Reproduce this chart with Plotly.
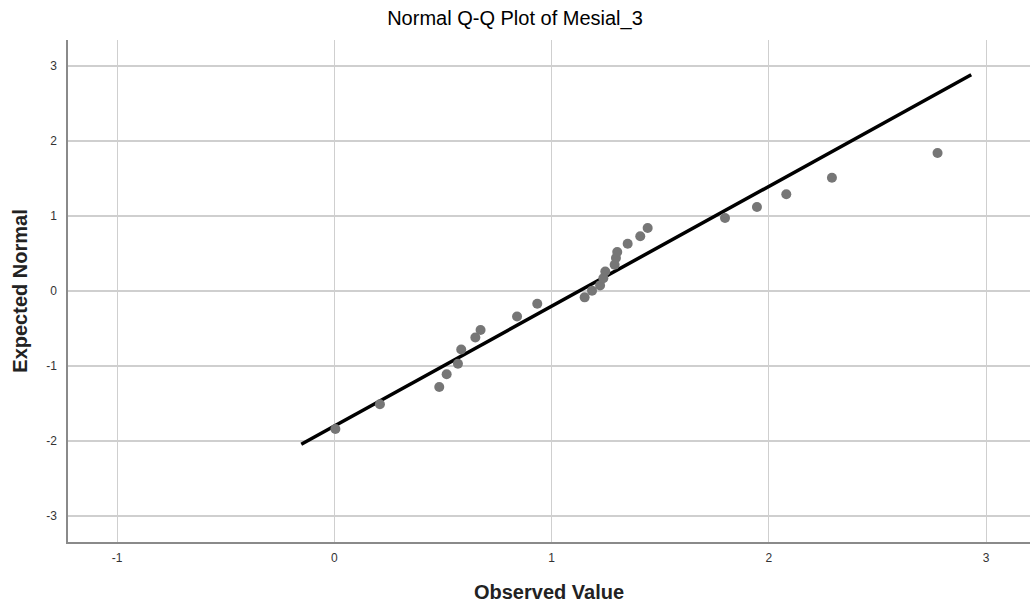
import plotly.graph_objects as go

observed = [0.005, 0.21, 0.483, 0.517, 0.569, 0.584, 0.649, 0.673, 0.841, 0.934,
            1.152, 1.186, 1.223, 1.238, 1.247, 1.29, 1.296, 1.302, 1.35, 1.408,
            1.442, 1.798, 1.945, 2.08, 2.29, 2.776]
expected = [-1.84, -1.51, -1.28, -1.11, -0.97, -0.78, -0.62, -0.52, -0.34, -0.17,
            -0.085, 0.005, 0.075, 0.17, 0.26, 0.35, 0.44, 0.52, 0.63, 0.73,
            0.84, 0.973, 1.12, 1.29, 1.51, 1.84]

# Reference line endpoints
line_x = [-0.152, 2.931]
line_y = [-2.044, 2.884]

x_ticks = [-1, 0, 1, 2, 3]
y_ticks = [-3, -2, -1, 0, 1, 2, 3]

font_family = "Liberation Sans, Arial, sans-serif"

fig = go.Figure()
fig.add_trace(go.Scatter(
    x=line_x, y=line_y, mode="lines",
    line=dict(color="black", width=3.5), hoverinfo="skip", showlegend=False))
fig.add_trace(go.Scatter(
    x=observed, y=expected, mode="markers",
    marker=dict(color="#767676", size=10, line=dict(width=0)),
    showlegend=False))

fig.update_layout(
    width=1030, height=606,
    margin=dict(l=68, r=0, t=40, b=64, autoexpand=False),
    paper_bgcolor="white", plot_bgcolor="white",
    font=dict(family=font_family, color="#333333"),
    title=dict(text="Normal Q-Q Plot of Mesial_3", x=0.5, xanchor="center",
               y=1 - 18 / 606, yanchor="middle",
               font=dict(size=20, color="#000000", family=font_family)),
)
fig.update_xaxes(
    range=[-1.2255, 3.2015], tickvals=x_ticks, ticktext=[str(v) for v in x_ticks],
    showgrid=True, gridcolor="#cfcfcf", gridwidth=1.2,
    zeroline=False, showline=True, linecolor="#8a8a8a", linewidth=2,
    ticks="", ticklabelstandoff=4, automargin=False,
    tickfont=dict(size=12, color="#333333"),
    title=dict(text="<b>Observed Value</b>", standoff=21,
               font=dict(size=20, color="#222222")),
)
fig.update_yaxes(
    range=[-3.347, 3.347], tickvals=y_ticks, ticktext=[str(v) for v in y_ticks],
    showgrid=True, gridcolor="#cfcfcf", gridwidth=2,
    zeroline=False, showline=True, linecolor="#8a8a8a", linewidth=1.5,
    ticks="", ticklabelstandoff=7, automargin=False,
    tickfont=dict(size=12, color="#333333"),
    title=dict(text="<b>Expected Normal</b>", standoff=13,
               font=dict(size=20, color="#222222")),
)

fig.write_html("out.html", config={"displayModeBar": False},
               post_script="document.body.style.margin='0';")
